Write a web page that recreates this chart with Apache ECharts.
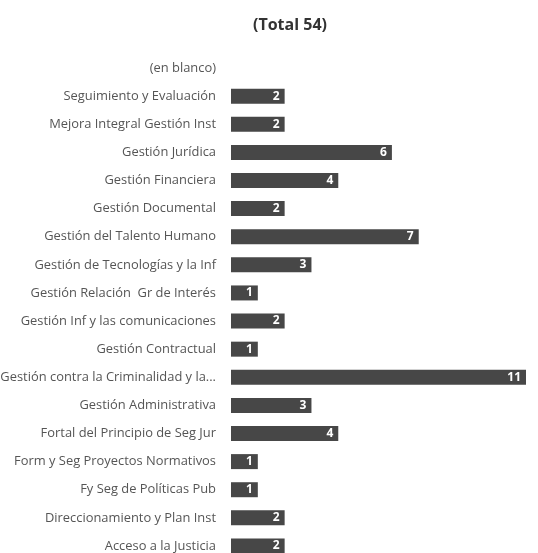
<!DOCTYPE html>
<html lang="es">
<head>
    <meta charset="UTF-8">
    <title>Total 54</title>
    <style>
        *{margin: 0; padding: 0;}
        body,html{width: 100%; height: 100%; background: #fff;}
        #chart{width: 538px; height: 553px;}
    </style>
</head>
<body>
<div id="chart"></div>
<script src="https://cdn.jsdelivr.net/npm/echarts@6/dist/echarts.min.js"></script>
<script>
    // categorias de arriba hacia abajo
    var categories = [
        '(en blanco)',
        'Seguimiento y Evaluación',
        'Mejora Integral Gestión Inst',
        'Gestión Jurídica',
        'Gestión Financiera',
        'Gestión Documental',
        'Gestión del Talento Humano',
        'Gestión de Tecnologías y la Inf',
        'Gestión Relación  Gr de Interés',
        'Gestión Inf y las comunicaciones',
        'Gestión Contractual',
        'Gestión contra la Criminalidad y la...',
        'Gestión Administrativa',
        'Fortal del Principio de Seg Jur',
        'Form y Seg Proyectos Normativos',
        'Fy Seg de Políticas Pub',
        'Direccionamiento y Plan Inst',
        'Acceso a la Justicia'
    ];
    var values = ['-', 2, 2, 6, 4, 2, 7, 3, 1, 2, 1, 11, 3, 4, 1, 1, 2, 2];
    var titleText = '(Total 54)';

    var myChart = echarts.init(document.getElementById('chart'));
    var option = {
        animation: false,
        title: {
            text: titleText,
            left: 285,
            top: 12,
            textAlign: 'center',
            textStyle: {
                fontFamily: 'Open Sans',
                fontSize: 16,
                fontWeight: 'bold',
                color: '#333'
            }
        },
        grid: {
            left: 231,
            right: 12,
            top: 54,
            height: 506,
            outerBoundsMode: 'none'
        },
        xAxis: {
            type: 'value',
            min: 0,
            max: 11,
            show: false
        },
        yAxis: {
            type: 'category',
            inverse: true,
            data: categories,
            axisLine: {show: false},
            axisTick: {show: false},
            axisLabel: {
                margin: 15,
                fontFamily: 'Open Sans',
                fontSize: 12.9,
                color: '#555'
            }
        },
        series: [{
            type: 'bar',
            data: values,
            barWidth: 15,
            itemStyle: {color: '#474747'},
            label: {
                show: true,
                position: 'insideRight',
                distance: 5,
                color: '#fff',
                fontFamily: 'Open Sans',
                fontWeight: 'bold',
                fontSize: 12
            }
        }]
    };
    myChart.setOption(option);
</script>
</body>
</html>
